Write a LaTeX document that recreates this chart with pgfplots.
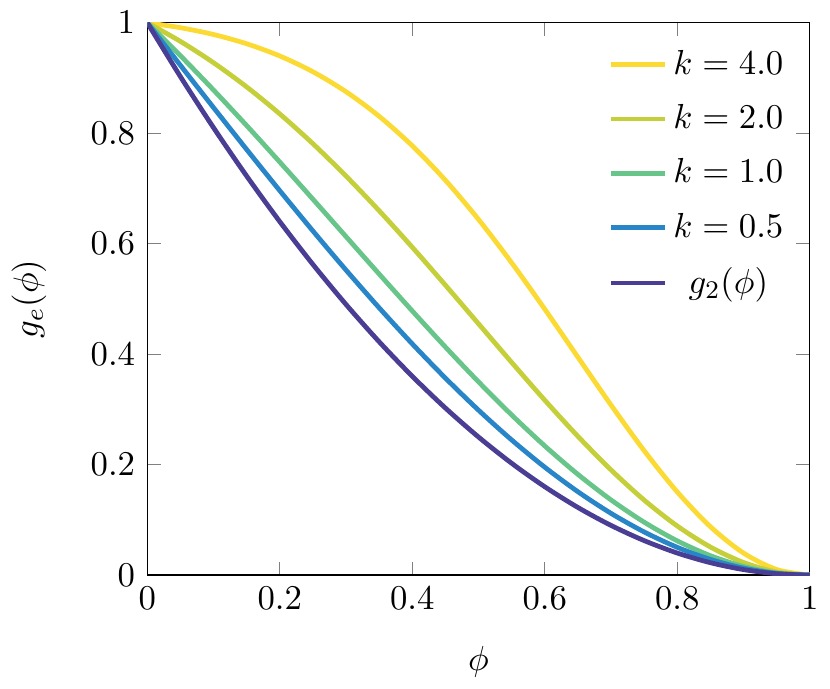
\documentclass[11pt,border=0pt]{standalone}
\usepackage{pgfplots}
\pgfplotsset{compat=1.18}
\definecolor{cK4}{RGB}{252,218,52}
\definecolor{cK2}{RGB}{196,207,58}
\definecolor{cK1}{RGB}{104,197,138}
\definecolor{cK05}{RGB}{40,134,200}
\definecolor{cG2}{RGB}{74,62,148}
\begin{document}
\begin{tikzpicture}
\begin{axis}[
  scale only axis,
  width=7.34cm, height=6.12cm,
  xmin=0, xmax=1, ymin=0, ymax=1,
  xtick={0,0.2,0.4,0.6,0.8,1},
  ytick={0,0.2,0.4,0.6,0.8,1},
  major tick style={gray, thin},
  xlabel={$\phi$}, ylabel={$g_e(\phi)$},
  xlabel shift=4pt, ylabel shift=6.5pt,
  legend style={draw=none, fill=none, at={(0.985,0.975)}, anchor=north east, row sep=3.9pt},
  every axis plot/.append style={line width=1.5pt, smooth},
]
\addplot[cK4] coordinates {
(0,1) (0.05,0.99110) (0.10,0.97876) (0.15,0.96204) (0.20,0.93991) (0.25,0.91131)
(0.30,0.87517) (0.35,0.83070) (0.40,0.77731) (0.45,0.71490) (0.50,0.64392)
(0.55,0.56550) (0.60,0.48153) (0.65,0.39460) (0.70,0.30797) (0.75,0.22533)
(0.80,0.15061) (0.85,0.08767) (0.90,0.03994) (0.95,0.01014) (1,0)};
\addlegendentry{$k=4.0$}
\addplot[cK2] coordinates {
(0,1) (0.05,0.96630) (0.10,0.92764) (0.15,0.88387) (0.20,0.83496) (0.25,0.78105)
(0.30,0.72246) (0.35,0.65973) (0.40,0.59358) (0.45,0.52497) (0.50,0.45505)
(0.55,0.38515) (0.60,0.31671) (0.65,0.25131) (0.70,0.19051) (0.75,0.13589)
(0.80,0.08892) (0.85,0.05089) (0.90,0.02290) (0.95,0.00577) (1,0)};
\addlegendentry{$k=2.0$}
\addplot[cK1] coordinates {
(0,1) (0.05,0.94040) (0.10,0.87822) (0.15,0.81387) (0.20,0.74781) (0.25,0.68059)
(0.30,0.61282) (0.35,0.54514) (0.40,0.47827) (0.45,0.41295) (0.50,0.34993)
(0.55,0.29000) (0.60,0.23390) (0.65,0.18239) (0.70,0.13616) (0.75,0.09585)
(0.80,0.06203) (0.85,0.03520) (0.90,0.01574) (0.95,0.00395) (1,0)};
\addlegendentry{$k=1.0$}
\addplot[cK05] coordinates {
(0,1) (0.05,0.92299) (0.10,0.84638) (0.15,0.77057) (0.20,0.69599) (0.25,0.62307)
(0.30,0.55225) (0.35,0.48397) (0.40,0.41866) (0.45,0.35674) (0.50,0.29863)
(0.55,0.24473) (0.60,0.19540) (0.65,0.15099) (0.70,0.11183) (0.75,0.07819)
(0.80,0.05032) (0.85,0.02843) (0.90,0.01268) (0.95,0.00317) (1,0)};
\addlegendentry{$k=0.5$}
\addplot[cG2] coordinates {
(0,1) (0.05,0.9025) (0.10,0.81) (0.15,0.7225) (0.20,0.64) (0.25,0.5625)
(0.30,0.49) (0.35,0.4225) (0.40,0.36) (0.45,0.3025) (0.50,0.25)
(0.55,0.2025) (0.60,0.16) (0.65,0.1225) (0.70,0.09) (0.75,0.0625)
(0.80,0.04) (0.85,0.0225) (0.90,0.01) (0.95,0.0025) (1,0)};
\addlegendentry{$g_2(\phi)$}
\end{axis}
\end{tikzpicture}
\end{document}
